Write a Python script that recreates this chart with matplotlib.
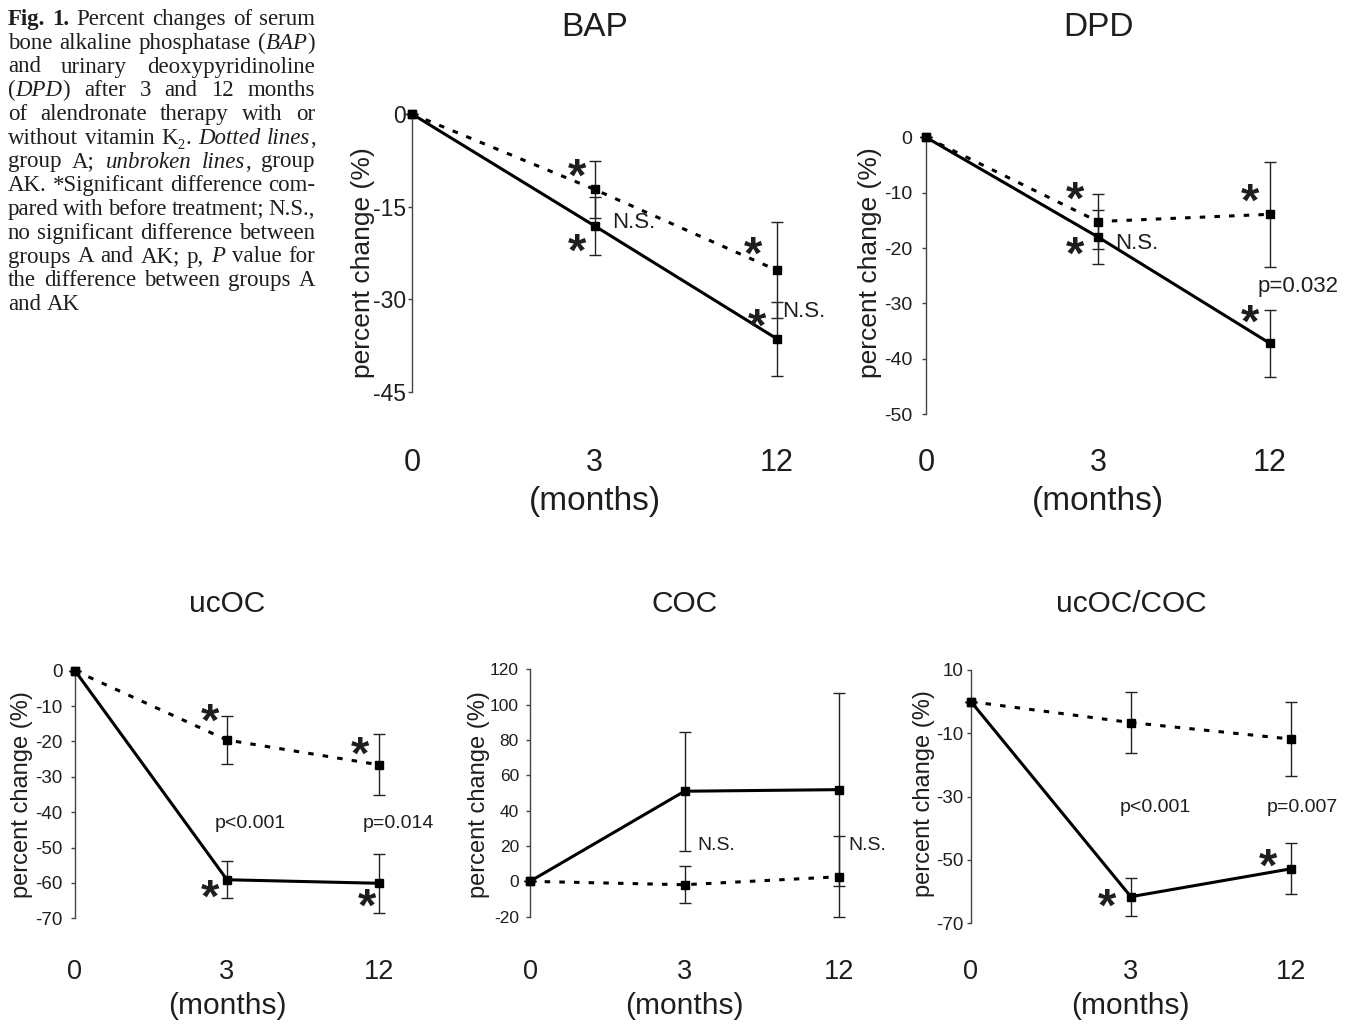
import matplotlib
matplotlib.use('Agg')
import matplotlib.pyplot as plt
from matplotlib import font_manager

W, H = 1352, 1027

months = ['0', '3', '12']

# BAP
bap_a = [0, -12.2, -25.3]
bap_a_sd = [0, 4.6, 7.8]
bap_ak = [0, -18.1, -36.4]
bap_ak_sd = [0, 4.65, 6.0]

# DPD
dpd_a = [0, -15.2, -13.9]
dpd_a_sd = [0, 4.9, 9.5]
dpd_ak = [0, -18.0, -37.2]
dpd_ak_sd = [0, 4.9, 6.1]

# ucOC
ucoc_a = [0, -19.6, -26.6]
ucoc_a_sd = [0, 6.8, 8.6]
ucoc_ak = [0, -59.1, -60.1]
ucoc_ak_sd = [0, 5.2, 8.4]

# COC
coc_a = [0, -1.9, 2.6]
coc_a_sd = [0, 10.4, 23.0]
coc_ak = [0, 51.0, 51.9]
coc_ak_sd = [0, 33.6, 54.8]

# ucOC/COC
ratio_a = [0, -6.6, -11.8]
ratio_a_sd = [0, 9.5, 11.6]
ratio_ak = [0, -61.6, -52.8]
ratio_ak_sd = [0, 6.0, 8.1]

caption = [
    "b:Fig. b:1. Percent changes of serum",
    "bone alkaline phosphatase (~i:BAP~)",
    "and urinary deoxypyridinoline",
    "(~i:DPD~) after 3 and 12 months",
    "of alendronate therapy with or",
    "without vitamin K~s:2~. i:Dotted i:lines~,",
    "group A; i:unbroken i:lines~, group",
    "AK. *Significant difference com-",
    "pared with before treatment; N.S.,",
    "no significant difference between",
    "groups A and AK; p, i:P value for",
    "the difference between groups A",
    "and AK",
]

names = {f.name for f in font_manager.fontManager.ttflist}
SANS = 'Liberation Sans'
NARROW = 'Liberation Sans Narrow' if 'Liberation Sans Narrow' in names else SANS
TXT = '#1e1e1e'

panels = [
    dict(title='BAP', a=bap_a, a_sd=bap_a_sd, ak=bap_ak, ak_sd=bap_ak_sd,
         box=(412, 114, 777, 392), ylim=(-45, 0), yticks=[0, -15, -30, -45],
         tfs=24, xfs=22, lfs=19, yfs=16.5, afs=16, ypad=1.5,
         tpad=56, xpad=40, mlab=-0.338, ylab=(-0.102, 0.464),
         stars=[(0.904, -8.6), (0.904, -20.7), (1.868, -21.2), (1.89, -32.9)],
         notes=[('N.S.', 1.096, -17.6, 'left'), ('N.S.', 2.027, -32.0, 'left')]),
    dict(title='DPD', a=dpd_a, a_sd=dpd_a_sd, ak=dpd_ak, ak_sd=dpd_ak_sd,
         box=(926, 137.3, 1270, 414.3), ylim=(-50, 0), yticks=[0, -10, -20, -30, -40, -50],
         tfs=24, xfs=22, lfs=19, yfs=14, afs=16, ypad=7,
         tpad=73, xpad=24.6, mlab=-0.258, ylab=(-0.128, 0.546),
         stars=[(0.866, -9.5), (0.866, -19.4), (1.884, -9.9), (1.884, -31.7)],
         notes=[('N.S.', 1.099, -19.1, 'left'), ('p=0.032', 1.93, -27.0, 'left')]),
    dict(title='ucOC', a=ucoc_a, a_sd=ucoc_a_sd, ak=ucoc_ak, ak_sd=ucoc_ak_sd,
         box=(75, 670.7, 379, 918.3), ylim=(-70, 0), yticks=list(range(0, -71, -10)),
         tfs=21.5, xfs=19.5, lfs=17, yfs=13.5, afs=14, ypad=6,
         tpad=42, xpad=29.3, mlab=-0.298, ylab=(-0.138, 0.498),
         stars=[(0.888, -11.7), (1.875, -21.0), (0.888, -61.4), (1.921, -64.0)],
         notes=[('p<0.001', 1.151, -43.1, 'center'), ('p=0.014', 2.125, -43.1, 'center')]),
    dict(title='COC', a=coc_a, a_sd=coc_a_sd, ak=coc_ak, ak_sd=coc_ak_sd,
         box=(530, 669.3, 839, 916.7), ylim=(-20, 120), yticks=list(range(-20, 121, 20)),
         tfs=21.5, xfs=19.5, lfs=17, yfs=12.5, afs=14, ypad=5,
         tpad=41, xpad=30.5, mlab=-0.304, ylab=(-0.128, 0.494),
         stars=[],
         notes=[('N.S.', 1.081, 20.3, 'left'), ('N.S.', 2.058, 20.3, 'left')]),
    dict(title='ucOC/COC', a=ratio_a, a_sd=ratio_a_sd, ak=ratio_ak, ak_sd=ratio_ak_sd,
         box=(971, 670, 1290.7, 923.3), ylim=(-70, 10), yticks=[10, -10, -30, -50, -70],
         tfs=21.5, xfs=19.5, lfs=17, yfs=13.5, afs=14, ypad=2.7,
         tpad=42, xpad=25.7, mlab=-0.271, ylab=(-0.112, 0.514),
         stars=[(0.851, -61.7), (1.858, -49.0)],
         notes=[('p<0.001', 1.151, -33.3, 'center'), ('p=0.007', 2.07, -33.3, 'center')]),
]

fig = plt.figure(figsize=(W / 100, H / 100), dpi=100)
x = [0, 1, 2]
STAR_FS = 34

for p in panels:
    l, t, r, b = p['box']
    ax = fig.add_axes([l / W, 1 - b / H, (r - l) / W, (b - t) / H])
    ax.set_xlim(0, 2)
    ax.set_ylim(*p['ylim'])
    for s in ['top', 'right', 'bottom']:
        ax.spines[s].set_visible(False)
    ax.spines['left'].set_color('#444444')
    ax.spines['left'].set_linewidth(1.0)

    ax.errorbar(x, p['a'], yerr=p['a_sd'], fmt='none', ecolor='#222222',
                elinewidth=1.0, capsize=4, capthick=1.0, clip_on=False, zorder=2)
    ax.errorbar(x, p['ak'], yerr=p['ak_sd'], fmt='none', ecolor='#222222',
                elinewidth=1.0, capsize=4, capthick=1.0, clip_on=False, zorder=2)
    ax.plot(x, p['a'], color='black', lw=2.2, linestyle=(0, (1.8, 3.0)),
            dash_capstyle='butt', marker='s', ms=6.3, clip_on=False, zorder=3)
    ax.plot(x, p['ak'], color='black', lw=2.2, marker='s', ms=6.3,
            clip_on=False, zorder=3)

    ax.set_yticks(p['yticks'])
    ax.set_yticklabels([str(v) for v in p['yticks']], family=NARROW,
                       fontsize=p['yfs'], color=TXT)
    ax.tick_params(axis='y', direction='out', length=3, width=1.0,
                   color='#444444', pad=p['ypad'])
    ax.set_xticks(x)
    ax.set_xticklabels(months, family=SANS, fontsize=p['xfs'], color=TXT)
    ax.tick_params(axis='x', length=0, pad=p['xpad'])

    ax.set_xlabel('(months)', family=SANS, fontsize=p['tfs'], color=TXT)
    ax.xaxis.set_label_coords(0.5, p['mlab'])
    ax.set_ylabel('percent change (%)', family=SANS, fontsize=p['lfs'], color=TXT)
    ax.yaxis.set_label_coords(*p['ylab'])
    ax.set_title(p['title'], family=SANS, fontsize=p['tfs'], color=TXT, pad=p['tpad'])

    for sx, sy in p['stars']:
        ax.annotate('*', (sx, sy), xytext=(0, -0.5 * STAR_FS), textcoords='offset points',
                    ha='center', va='baseline', fontsize=STAR_FS, family=SANS,
                    weight='bold', color=TXT, annotation_clip=False)
    for txt, nx, ny, ha in p['notes']:
        ax.text(nx, ny, txt, ha=ha, va='center', fontsize=p['afs'], family=SANS,
                color=TXT, clip_on=False)

# caption, justified between left and right edges
renderer = fig.canvas.get_renderer()
left, right, base0, step, size = 8, 315, 25, 23.75, 16.5
for k, line in enumerate(caption):
    y = 1 - (base0 + k * step) / H
    words = []
    for w in line.split(' '):
        segs = []
        for s in w.split('~'):
            st = 'r'
            if len(s) > 1 and s[1] == ':' and s[0] in 'ibs':
                st, s = s[0], s[2:]
            txt = fig.text(0, y, s, family='Liberation Serif', color=TXT,
                           fontsize=size * 0.62 if st == 's' else size,
                           style='italic' if st == 'i' else 'normal',
                           weight='bold' if st == 'b' else 'normal',
                           ha='left', va='baseline')
            segs.append((txt, st))
        words.append(segs)
    widths = [[tx.get_window_extent(renderer).width for tx, _ in segs] for segs in words]
    total = sum(sum(ws) for ws in widths)
    if k == len(caption) - 1 or len(words) < 2:
        gap = 0.25 * size * 100 / 72
    else:
        gap = (right - left - total) / (len(words) - 1)
    xp = left
    for segs, ws in zip(words, widths):
        for (tx, st), wd in zip(segs, ws):
            tx.set_x(xp / W)
            if st == 's':
                tx.set_y(y - 5 / H)
            xp += wd + (1 if st == 's' else 0)
        xp += gap

fig.savefig('out.png', dpi=100)
